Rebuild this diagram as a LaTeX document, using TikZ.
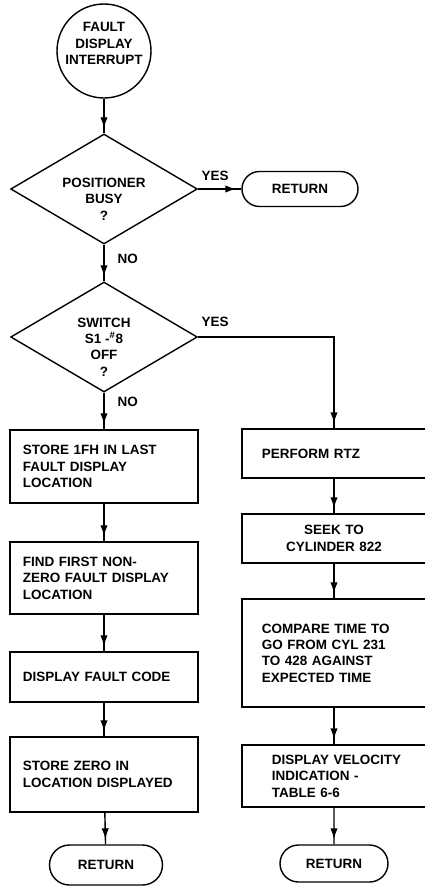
\documentclass[tikz,border=0pt]{standalone}
\usepackage{fontspec}
\setmainfont{Liberation Sans}
\usetikzlibrary{shapes.geometric,shapes.misc,arrows.meta,decorations.markings}

\tikzset{
  every node/.style={font=\fontsize{11.5}{14}\selectfont\bfseries},
  procbox/.style={draw, line width=1.2pt, inner xsep=0.39cm, inner ysep=0pt, text width=4.86cm, align=left},
  rbox/.style={procbox, inner xsep=0.6cm, text width=4.98cm},
  decision/.style={draw, line width=1.2pt, diamond, inner sep=0pt, minimum width=5.6cm, minimum height=3.3cm},
  dtext/.style={align=center, inner sep=0pt},
  terminal/.style={draw, line width=1.2pt, rounded rectangle, inner sep=0pt},
  feed/.style={line width=1.2pt, postaction={decorate},
    decoration={markings, mark=at position -0.15cm with {\arrow{Latex[length=0.33cm,width=0.22cm]}}}},
  lbl/.style={inner sep=0pt}
}

\begin{document}
\begin{tikzpicture}[x=0.03cm, y=-0.03cm]
\useasboundingbox (0,0) rectangle (425,886);
\clip (0,0) rectangle (425,886);

% entry
\node[draw, line width=1.2pt, circle, minimum size=2.82cm, inner sep=0pt] (start) at (104,51) {};
\node[dtext] (starttxt) at ([yshift=0.22cm]start.center) {FAULT\\DISPLAY\\INTERRUPT};

% decisions
\node[decision] (busy) at (104,189) {};
\node[dtext] (busytxt) at ([yshift=-0.3cm]busy.center) {POSITIONER\\BUSY\\?};
\node[terminal, minimum width=3.48cm, minimum height=1.05cm] (ret1) at (300,189) {RETURN};

\node[decision] (switch) at (104,337) {};
\node[dtext] (switchtxt) at ([yshift=-0.3cm]switch.center) {SWITCH\\S1 -\textsuperscript{\#}8\\OFF\\?};

% left branch
\node[procbox, minimum height=2.19cm] (store1) at (104,466.5) {STORE 1FH IN LAST\\FAULT DISPLAY\\LOCATION};
\node[procbox, minimum height=2.16cm] (find) at (104,578) {FIND FIRST NON-\\ZERO FAULT DISPLAY\\LOCATION};
\node[procbox, minimum height=1.5cm] (code) at (104,677) {DISPLAY FAULT CODE};
\node[procbox, minimum height=2.25cm] (zero) at (104,774.5) {STORE ZERO IN\\LOCATION DISPLAYED};
\node[terminal, minimum width=3.39cm, minimum height=1.2cm] (ret2) at (106,865) {RETURN};

% right branch (boxes run off the right edge)
\coordinate (raxis) at (334,337);
\node[rbox, minimum height=1.47cm] (rtz) at (345,453.5) {PERFORM RTZ};
\node[rbox, minimum height=1.47cm, text width=4.32cm, align=center] (seek) at (334,538.5) {SEEK TO\\CYLINDER 822};
\node[rbox, minimum height=3.24cm] (compare) at (345,653) {COMPARE TIME TO\\GO FROM CYL 231\\TO 428 AGAINST\\EXPECTED TIME};
\node[rbox, minimum height=1.86cm] (velocity) at (345,776) {\hspace*{0.3cm}DISPLAY VELOCITY\\\hspace*{0.3cm}INDICATION -\\\hspace*{0.3cm}TABLE 6-6};
\node[terminal, minimum width=3.24cm, minimum height=1.11cm] (ret3) at (334,863.5) {RETURN};

% connectors
\draw[feed] (start) -- (busy);
\draw[feed] (busy.east) -- node[lbl, pos=0, anchor=south west, xshift=0.09cm, yshift=0.24cm] (yes1) {YES} (ret1);
\draw[feed] (busy.south) -- node[lbl, pos=0, anchor=north west, xshift=0.39cm, yshift=-0.27cm] (no1) {NO} (switch.north);
\draw[feed] (switch.east) -- node[lbl, pos=0, anchor=south west, xshift=0.09cm, yshift=0.3cm] (yes2) {YES} (raxis) -- (rtz.north -| raxis);
\draw[feed] (switch.south) -- node[lbl, pos=0, anchor=north west, xshift=0.39cm, yshift=-0.12cm] (no2) {NO} (store1.north);
\draw[feed] (store1) -- (find);
\draw[feed] (find) -- (code);
\draw[feed] (code) -- (zero);
\draw[feed] (zero) -- (ret2);
\draw[feed] (rtz.south -| raxis) -- (seek.north -| raxis);
\draw[feed] (seek.south -| raxis) -- (compare.north -| raxis);
\draw[feed] (compare.south -| raxis) -- (velocity.north -| raxis);
\draw[feed] (velocity.south -| raxis) -- (ret3);

\end{tikzpicture}
\end{document}
